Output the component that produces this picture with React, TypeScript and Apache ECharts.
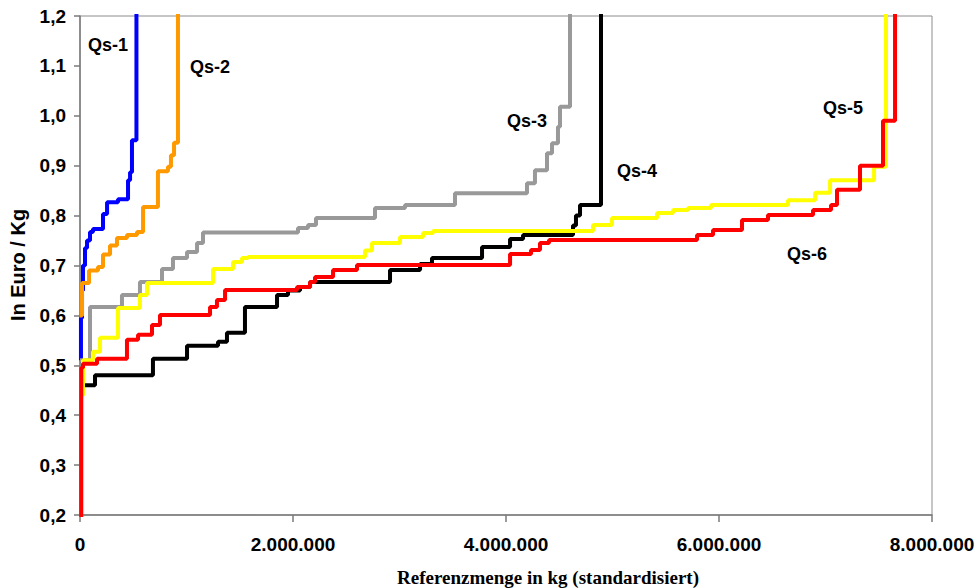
import React, { useEffect, useRef } from "react";
import * as echarts from "echarts";

// Axis ticks
const xTicks = [0, 2000000, 4000000, 6000000, 8000000];
const yTicks = [0.2, 0.3, 0.4, 0.5, 0.6, 0.7, 0.8, 0.9, 1.0, 1.1, 1.2];

// Series names
const seriesNames = ["Qs-1", "Qs-2", "Qs-3", "Qs-4", "Qs-5", "Qs-6"];

// Step curves: x = start of each price level (kg), y = price level (Euro/Kg)
const qs1X = [0, 9000, 19000, 28000, 47000, 66000, 94000, 122000, 216000, 254000, 357000, 451000, 470000, 488000, 530000];
const qs1Y = [0.51, 0.595, 0.65, 0.70, 0.735, 0.75, 0.767, 0.773, 0.803, 0.827, 0.833, 0.871, 0.887, 0.951, 1.25];

const qs2X = [0, 19000, 85000, 169000, 216000, 282000, 347000, 441000, 535000, 592000, 732000, 826000, 854000, 883000, 920000];
const qs2Y = [0.60, 0.665, 0.69, 0.697, 0.722, 0.74, 0.755, 0.761, 0.767, 0.817, 0.889, 0.898, 0.921, 0.946, 1.25];

const qs3X = [0, 94000, 394000, 563000, 770000, 873000, 1005000, 1099000, 1155000, 2047000, 2141000, 2216000, 2770000, 3052000, 3521000, 4197000, 4272000, 4385000, 4432000, 4488000, 4507000, 4601000];
const qs3Y = [0.51, 0.617, 0.641, 0.667, 0.693, 0.715, 0.727, 0.745, 0.766, 0.775, 0.781, 0.795, 0.815, 0.821, 0.845, 0.865, 0.891, 0.925, 0.945, 0.978, 1.018, 1.25];

const qs4X = [47000, 141000, 685000, 1005000, 1296000, 1380000, 1549000, 1850000, 1953000, 2066000, 2160000, 2911000, 3193000, 3305000, 3775000, 4038000, 4160000, 4629000, 4657000, 4695000, 4892000];
const qs4Y = [0.46, 0.48, 0.513, 0.539, 0.547, 0.565, 0.617, 0.641, 0.65, 0.657, 0.667, 0.691, 0.703, 0.715, 0.737, 0.753, 0.761, 0.78, 0.80, 0.821, 1.25];

const qs5X = [0, 28000, 122000, 188000, 357000, 563000, 629000, 1249000, 1437000, 1521000, 1577000, 2676000, 2742000, 3005000, 3221000, 3315000, 4817000, 4995000, 5418000, 5568000, 5709000, 5925000, 6648000, 6902000, 7043000, 7456000, 7568000];
const qs5Y = [0.44, 0.51, 0.527, 0.555, 0.615, 0.641, 0.665, 0.693, 0.707, 0.715, 0.717, 0.73, 0.745, 0.757, 0.765, 0.769, 0.781, 0.795, 0.805, 0.811, 0.815, 0.821, 0.831, 0.846, 0.871, 0.898, 1.25];

const qs6X = [0, 12000, 28000, 160000, 441000, 545000, 676000, 751000, 1221000, 1286000, 1362000, 2038000, 2160000, 2207000, 2376000, 2601000, 4038000, 4235000, 4319000, 4404000, 5794000, 5944000, 6216000, 6460000, 6883000, 7052000, 7108000, 7324000, 7540000, 7653000];
const qs6Y = [0.10, 0.495, 0.503, 0.513, 0.551, 0.561, 0.581, 0.601, 0.617, 0.631, 0.651, 0.657, 0.667, 0.677, 0.691, 0.701, 0.723, 0.731, 0.745, 0.751, 0.761, 0.771, 0.791, 0.801, 0.811, 0.821, 0.852, 0.90, 0.99, 1.25];

const allX = [qs1X, qs2X, qs3X, qs4X, qs5X, qs6X];
const allY = [qs1Y, qs2Y, qs3Y, qs4Y, qs5Y, qs6Y];
const colors = ["#0000FF", "#FF9900", "#999999", "#000000", "#FFFF00", "#FF0000"];

// Label positions (pixels, centers)
const labelPos = [
  [108, 45],
  [210, 67],
  [527, 121],
  [637, 171],
  [843, 108],
  [807, 254],
];

const xAxisTitle = "Referenzmenge in kg (standardisiert)";
const yAxisTitle = "In Euro / Kg";

const fmtX = (v: number) => String(Math.round(v)).replace(/\B(?=(\d{3})+(?!\d))/g, ".");
const fmtY = (v: number) => v.toFixed(1).replace(".", ",");

export default function App() {
  const ref = useRef<HTMLDivElement>(null);
  useEffect(() => {
    if (!ref.current) return;
    const chart = echarts.init(ref.current, undefined, { renderer: "svg" });
    const sans = "'Liberation Sans', Arial, sans-serif";
    const option: any = {
      animation: false,
      backgroundColor: "#ffffff",
      grid: {
        left: 80,
        right: 47,
        top: 16,
        bottom: 73,
        show: true,
        borderColor: "#8c8c8c",
        borderWidth: 1,
        backgroundColor: "transparent",
      },
      xAxis: {
        type: "value",
        min: xTicks[0],
        max: xTicks[xTicks.length - 1],
        interval: xTicks[1] - xTicks[0],
        axisLine: { show: true, onZero: false, lineStyle: { color: "#7a7a7a", width: 1.5 } },
        axisTick: { show: true, inside: false, length: 7, lineStyle: { color: "#7a7a7a", width: 1.5 } },
        axisLabel: {
          formatter: fmtX,
          color: "#000",
          fontWeight: "bold",
          fontSize: 19,
          fontFamily: sans,
          margin: 20,
        },
        splitLine: { show: false },
      },
      yAxis: {
        type: "value",
        min: yTicks[0],
        max: yTicks[yTicks.length - 1],
        interval: 0.1,
        axisLine: { show: true, onZero: false, lineStyle: { color: "#7a7a7a", width: 1.5 } },
        axisTick: { show: true, inside: false, length: 6, lineStyle: { color: "#7a7a7a", width: 1.5 } },
        axisLabel: {
          formatter: fmtY,
          color: "#000",
          fontWeight: "bold",
          fontSize: 19,
          fontFamily: sans,
          margin: 14,
        },
        splitLine: { show: false },
      },
      series: seriesNames.map((name, i) => ({
        name,
        type: "line",
        step: "end",
        showSymbol: false,
        symbol: "none",
        clip: true,
        lineStyle: { color: colors[i], width: 4 },
        data: allX[i].map((x, j) => [x, allY[i][j]]),
      })),
      graphic: [
        ...seriesNames.map((name, i) => ({
          type: "text",
          x: labelPos[i][0],
          y: labelPos[i][1],
          style: {
            text: name,
            fill: "#000",
            font: `bold 18px ${sans}`,
            align: "center",
            verticalAlign: "middle",
          },
          z: 100,
        })),
        {
          type: "text",
          x: 548,
          y: 577,
          style: {
            text: xAxisTitle,
            fill: "#000",
            font: "bold 19px 'Liberation Serif', 'Times New Roman', serif",
            align: "center",
            verticalAlign: "middle",
          },
        },
        {
          type: "text",
          x: 18,
          y: 265,
          rotation: Math.PI / 2,
          style: {
            text: yAxisTitle,
            fill: "#000",
            font: `bold 20px ${sans}`,
            align: "center",
            verticalAlign: "middle",
          },
        },
      ],
    };
    chart.setOption(option);
    return () => chart.dispose();
  }, []);
  return (
    <div
      ref={ref}
      style={{ position: "fixed", left: 0, top: 0, width: 979, height: 588, background: "#fff" }}
    />
  );
}
